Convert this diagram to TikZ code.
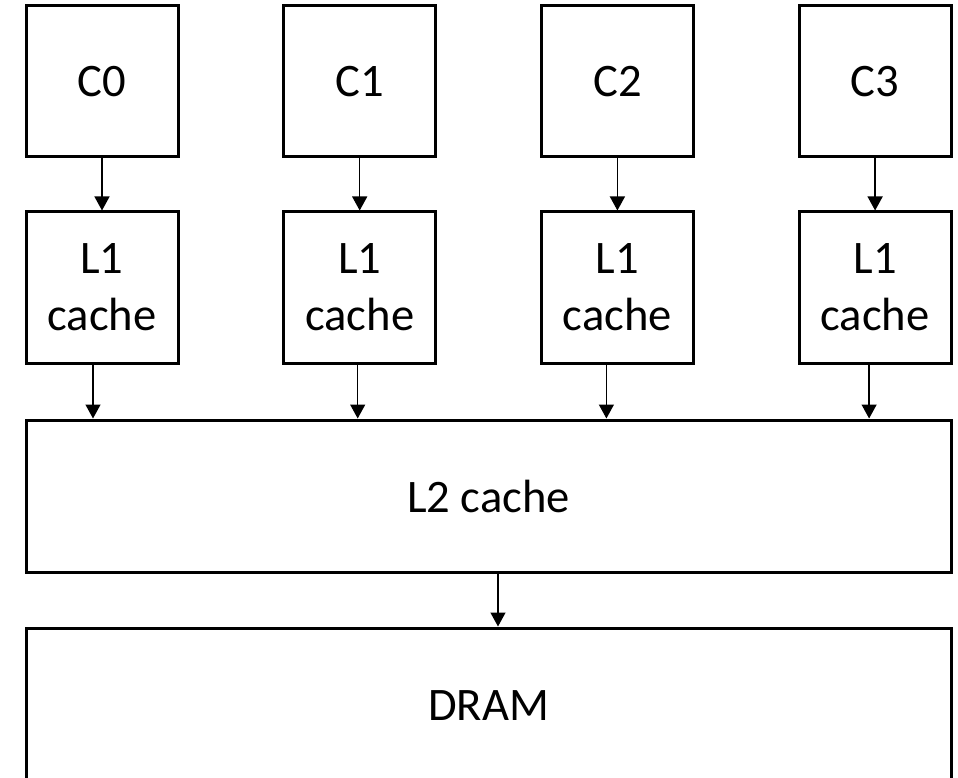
\documentclass[tikz,border=0pt]{standalone}
\usepackage{fontspec}
\setmainfont{Carlito}
\usepackage{tikz}
\usetikzlibrary{positioning,arrows.meta}

\begin{document}
\begin{tikzpicture}[x=1pt,y=-1pt,
        core/.style={rectangle,draw=black,line width=3pt,minimum width=152pt,
                     minimum height=151pt,align=center,
                     font=\fontsize{46.6}{57}\selectfont},
        level/.style={rectangle,draw=black,line width=3pt,minimum width=925pt,
                      minimum height=152pt,font=\fontsize{46.6}{57}\selectfont},
        link/.style={-{Triangle[length=14pt,width=15pt]},line width=1.3pt}]
        \useasboundingbox (0,0) rectangle (958,778);
        \node[level] (ltwo) at (488.5,496) {L2 cache};
        \node[level,minimum height=156pt] (dram) at (488.5,706) {DRAM};
        \foreach \i/\dx in {0/-9,1/-2,2/-11,3/-6}{
          \node[core] (c\i) at (\i*257.7+102,81.5) {C\i};
          \node[core] (lone\i) at (\i*257.7+102,287.5) {L1\\cache};
          \draw[link] (c\i) -- (lone\i);
          \draw[link] ([xshift=\dx pt]lone\i.south)
            -- ([xshift=\dx pt]lone\i.south |- ltwo.north);
        }
        \draw[link] ([xshift=9.5pt]ltwo.south) -- ([xshift=9.5pt]ltwo.south |- dram.north);
      \end{tikzpicture}
\end{document}
